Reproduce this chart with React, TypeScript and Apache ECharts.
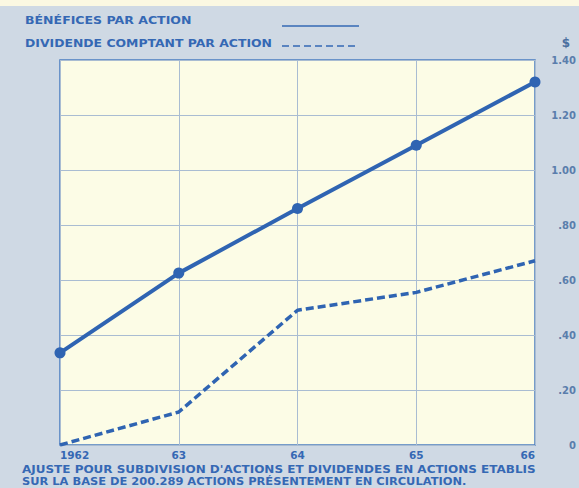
import React, { useEffect, useRef } from "react";
import * as echarts from "echarts";

const years = ["1962", "63", "64", "65", "66"];
const earnings = [0.335, 0.625, 0.86, 1.09, 1.32];
const dividends = [0.0, 0.12, 0.49, 0.555, 0.67];
const legendLabels = ["BÉNÉFICES PAR ACTION", "DIVIDENDE COMPTANT PAR ACTION"];
const noteLines = [
  "AJUSTE POUR SUBDIVISION D'ACTIONS ET DIVIDENDES EN ACTIONS ETABLIS",
  "SUR LA BASE DE 200.289 ACTIONS PRÉSENTEMENT EN CIRCULATION.",
];
const unitLabel = "$";

const BLUE = "#2f64b2";
const TEXT = "#3568b4";
const GRID = "#a9bcd2";
const FONT = '"DejaVu Sans", sans-serif';

function stretchedText(text: string, x: number, y: number, size: number, sx: number) {
  return {
    type: "text",
    x,
    y,
    scaleX: sx,
    style: {
      x: 0,
      y: 0,
      text,
      fill: TEXT,
      font: `bold ${size}px ${FONT}`,
      verticalAlign: "middle",
    },
  };
}

export default function App() {
  const ref = useRef<HTMLDivElement>(null);
  useEffect(() => {
    const chart = echarts.init(ref.current!, null, { renderer: "svg" });
    chart.setOption({
      animation: false,
      backgroundColor: "#cfd9e4",
      grid: {
        left: 60,
        right: 42,
        top: 60,
        bottom: 43,
        show: true,
        backgroundColor: "#fcfce6",
        borderColor: "#4a7cc0",
        borderWidth: 1.5,
      },
      xAxis: {
        type: "category",
        data: years,
        boundaryGap: false,
        axisLine: { show: false },
        axisTick: { show: false },
        splitLine: { show: true, lineStyle: { color: GRID, width: 1 } },
        axisLabel: {
          color: TEXT,
          fontWeight: "bold",
          fontSize: 10.5,
          fontFamily: FONT,
          margin: 4,
          alignMinLabel: "left",
          alignMaxLabel: "right",
        },
      },
      yAxis: {
        type: "value",
        position: "right",
        min: 0,
        max: 1.4,
        interval: 0.2,
        axisLine: { show: false },
        axisTick: { show: false },
        splitLine: { show: true, lineStyle: { color: GRID, width: 1 } },
        axisLabel: {
          color: "#5a7eac",
          fontWeight: "bold",
          fontSize: 10,
          fontFamily: FONT,
          align: "right",
          margin: 41,
          formatter: (v: number) => {
            if (v === 0) return "0";
            const s = v.toFixed(2);
            return v < 1 ? s.slice(1) : s;
          },
        },
      },
      series: [
        {
          name: legendLabels[0],
          type: "line",
          data: earnings,
          symbol: "circle",
          symbolSize: 11,
          lineStyle: { color: BLUE, width: 4 },
          itemStyle: { color: BLUE },
          z: 3,
        },
        {
          name: legendLabels[1],
          type: "line",
          data: dividends,
          symbol: "none",
          lineStyle: { color: BLUE, width: 3.5, type: [8, 4] },
          z: 2,
        },
      ],
      graphic: [
        {
          type: "rect",
          shape: { x: 0, y: 0, width: 579, height: 6 },
          style: { fill: "#fbf8e2" },
          silent: true,
        },
        stretchedText(legendLabels[0], 25, 20, 11, 1.14),
        {
          type: "line",
          shape: { x1: 282, y1: 26, x2: 359, y2: 26 },
          style: { stroke: TEXT, lineWidth: 1.5 },
        },
        stretchedText(legendLabels[1], 25, 43.5, 11, 1.13),
        {
          type: "line",
          shape: { x1: 282, y1: 46, x2: 358, y2: 46 },
          style: { stroke: TEXT, lineWidth: 1.5, lineDash: [7, 4] },
        },
        {
          type: "text",
          style: {
            x: 566,
            y: 43,
            text: unitLabel,
            fill: "#4a6f9f",
            font: `bold 12px ${FONT}`,
            align: "center",
            verticalAlign: "middle",
          },
        },
        stretchedText(noteLines[0], 22, 470, 10, 1.2),
        stretchedText(noteLines[1], 22, 482, 10, 1.145),
      ],
    });
    return () => chart.dispose();
  }, []);
  return (
    <div
      ref={ref}
      style={{ position: "absolute", left: 0, top: 0, width: 579, height: 488 }}
    />
  );
}
